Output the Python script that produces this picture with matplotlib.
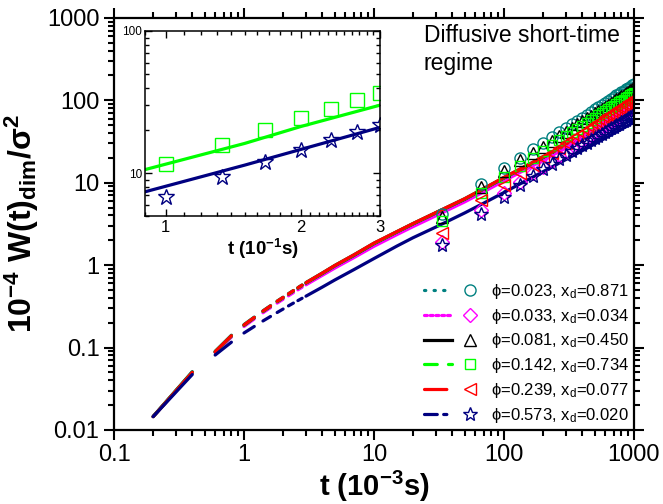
import matplotlib
matplotlib.use('Agg')
import matplotlib.pyplot as plt
from matplotlib.lines import Line2D
from matplotlib.legend_handler import HandlerTuple
from matplotlib.ticker import FixedLocator, NullFormatter

plt.rcParams['font.family'] = ['Liberation Sans', 'DejaVu Sans']
plt.rcParams['mathtext.fontset'] = 'custom'
plt.rcParams['mathtext.rm'] = 'Liberation Sans'
plt.rcParams['mathtext.it'] = 'Liberation Sans:italic'
plt.rcParams['mathtext.bf'] = 'Liberation Sans:bold'

# ---- data ----
series_labels = ['ϕ=0.023, x$_\\mathregular{d}$=0.871',
                 'ϕ=0.033, x$_\\mathregular{d}$=0.034',
                 'ϕ=0.081, x$_\\mathregular{d}$=0.450',
                 'ϕ=0.142, x$_\\mathregular{d}$=0.734',
                 'ϕ=0.239, x$_\\mathregular{d}$=0.077',
                 'ϕ=0.573, x$_\\mathregular{d}$=0.020']

# curves, t in ms
t_line = [0.2, 0.4, 0.6, 0.8, 1.0, 1.2, 1.4, 1.6, 1.8, 2.0, 2.2, 2.4, 2.6, 2.8, 3.0,
          4, 5, 7, 10, 15, 20, 30, 50, 70, 100, 150, 200, 300, 500, 700, 1000]
w_line_023 = [0.0146, 0.051, 0.090, 0.141, 0.190, 0.234, 0.279, 0.322, 0.366, 0.408, 0.450,
              0.492, 0.533, 0.574, 0.614, 0.80, 0.99, 1.33, 1.84, 2.54, 3.19, 4.33, 6.4, 8.5,
              11.5, 16.1, 20.5, 28.8, 44.6, 59.5, 81.5]
w_line_033 = [0.0145, 0.049, 0.087, 0.134, 0.180, 0.222, 0.264, 0.305, 0.346, 0.385, 0.424,
              0.463, 0.501, 0.539, 0.576, 0.75, 0.92, 1.23, 1.69, 2.34, 2.93, 3.97, 5.85, 7.75,
              10.5, 14.7, 18.7, 26.3, 40.8, 54.5, 74.0]
w_line_081 = [0.0145, 0.050, 0.088, 0.138, 0.186, 0.230, 0.274, 0.317, 0.360, 0.402, 0.444,
              0.485, 0.526, 0.566, 0.606, 0.79, 0.98, 1.31, 1.82, 2.52, 3.16, 4.30, 6.3, 8.4,
              11.4, 15.9, 20.2, 28.5, 44.0, 58.8, 80.5]
w_line_142 = [0.0145, 0.050, 0.089, 0.138, 0.187, 0.231, 0.275, 0.318, 0.362, 0.404, 0.446,
              0.487, 0.528, 0.569, 0.609, 0.795, 0.985, 1.32, 1.83, 2.53, 3.18, 4.32, 6.35, 8.45,
              11.45, 16.0, 20.4, 28.7, 44.5, 59.4, 81.2]
w_line_239 = [0.0145, 0.050, 0.089, 0.139, 0.188, 0.232, 0.277, 0.320, 0.364, 0.406, 0.448,
              0.490, 0.531, 0.572, 0.612, 0.80, 0.99, 1.33, 1.85, 2.55, 3.20, 4.35, 6.4, 8.5,
              11.6, 16.2, 20.6, 29.0, 45.0, 60.0, 82.0]
w_line_573 = [0.0145, 0.047, 0.081, 0.116, 0.150, 0.180, 0.210, 0.238, 0.266, 0.293, 0.320,
              0.346, 0.371, 0.396, 0.420, 0.54, 0.66, 0.88, 1.20, 1.70, 2.15, 2.90, 4.30, 5.65,
              7.6, 10.7, 13.6, 19.1, 29.5, 39.5, 54.0]

# measured points, t in ms
t_pts = [33.3, 66.7, 100, 133.3, 166.7, 200, 233.3, 266.7, 300, 333.3, 366.7, 400, 433.3,
         466.7, 500, 533.3, 566.7, 600, 633.3, 666.7, 700, 733.3, 766.7, 800, 833.3, 866.7,
         900, 933.3, 966.7, 1000]
w_pts_023 = [4.14, 9.67, 15.0, 20.1, 25.3, 30.4, 35.6, 40.8, 46.0, 51.2, 56.5, 61.7, 66.9,
             72.2, 77.4, 82.7, 88.0, 93.3, 98.5, 103.8, 109.1, 114.4, 119.7, 125.0, 130.3,
             135.6, 140.9, 146.2, 151.5, 157.0]
w_pts_033 = [1.93, 4.68, 7.45, 10.3, 13.0, 15.7, 18.4, 21.1, 23.8, 26.6, 29.4, 32.2, 35.0,
             37.8, 40.6, 43.4, 46.3, 49.1, 52.0, 54.9, 57.8, 60.6, 63.5, 66.4, 69.3, 72.3,
             75.2, 78.1, 81.0, 84.0]
w_pts_081 = [3.88, 8.8, 14.0, 18.9, 22.8, 27.4, 32.0, 36.7, 41.4, 46.1, 50.9, 55.5, 60.2,
             65.0, 69.7, 74.4, 79.2, 84.0, 88.7, 93.4, 98.2, 103.0, 107.7, 112.5, 117.3,
             122.0, 126.8, 131.6, 136.4, 141.3]
w_pts_142 = [3.45, 7.6, 11.6, 15.9, 20.1, 24.3, 28.4, 32.7, 36.8, 40.9, 45.0, 49.1, 53.2,
             57.3, 61.3, 65.4, 69.5, 73.6, 77.7, 81.8, 85.9, 90.0, 94.1, 98.1, 102.2, 106.3,
             110.4, 114.5, 118.6, 122.7]
w_pts_239 = [2.48, 6.18, 9.4, 13.0, 16.4, 19.8, 23.2, 26.6, 30.0, 33.5, 37.0, 40.5, 44.0,
             47.6, 51.1, 54.7, 58.3, 61.9, 65.5, 69.1, 72.7, 76.3, 80.0, 83.6, 87.3, 91.0,
             94.6, 98.3, 102.0, 105.7]
w_pts_573 = [1.73, 4.14, 6.8, 9.4, 12.0, 14.5, 17.1, 19.4, 21.8, 24.1, 26.3, 28.5, 30.7,
             32.9, 35.1, 37.2, 39.4, 41.5, 43.6, 45.7, 47.8, 49.9, 52.0, 54.0, 56.1, 58.1,
             60.2, 62.2, 64.2, 66.2]

# inset, t in 0.1 s
t_ins = [1.0, 1.333, 1.667, 2.0, 2.333, 2.667, 3.0]
w_ins_142 = [11.6, 15.9, 20.1, 24.3, 28.4, 32.7, 36.8]
w_ins_573 = [6.81, 9.42, 12.0, 14.5, 17.1, 19.4, 21.8]
t_fit = [0.9, 1.5, 2.0, 3.0]
w_fit_142 = [10.6, 16.2, 21.3, 30.1]
w_fit_573 = [7.4, 11.4, 14.7, 21.0]

x_ticks = [0.1, 1, 10, 100, 1000]
x_ticklabels = ['0.1', '1', '10', '100', '1000']
y_ticks = [0.01, 0.1, 1, 10, 100, 1000]
y_ticklabels = ['0.01', '0.1', '1', '10', '100', '1000']

lines = [w_line_023, w_line_033, w_line_081, w_line_142, w_line_239, w_line_573]
points = [w_pts_023, w_pts_033, w_pts_081, w_pts_142, w_pts_239, w_pts_573]

# ---- styles ----
colors = ['#008080', '#ff00ff', '#000000', '#00ff00', '#ff0000', '#000080']
markers = ['o', 'D', '^', 's', '<', '*']
msizes = [8, 7, 9, 7.5, 9, 10.5]
dashes = [(0, (0.4, 2.6)), (0, (0.9, 0.9)), '-', (0, (4, 3.5)), (0, (7, 2, 1, 2)), (0, (4, 2, 1, 2))]

fig = plt.figure(figsize=(6.63, 5.04), dpi=100)
ax = fig.add_axes([0.172, 0.147, 0.784, 0.8175])

for w, c in zip(lines, colors):
    # short times drawn in pieces, as in the original
    for i in range(0, 14, 2):
        ax.plot(t_line[i:i + 2], w[i:i + 2], color=c, lw=2.3, solid_capstyle='round')
    ax.plot(t_line[14:], w[14:], color=c, lw=2.3, solid_capstyle='round')

for w, c, m, s in zip(points, colors, markers, msizes):
    ax.plot(t_pts, w, ls='none', marker=m, ms=s, mfc='none', mec=c, mew=1.0)

ax.set_xscale('log')
ax.set_yscale('log')
ax.set_xlim(0.1, 1000)
ax.set_ylim(0.01, 1000)
ax.set_xticks(x_ticks, x_ticklabels)
ax.set_yticks(y_ticks, y_ticklabels)
ax.xaxis.set_minor_formatter(NullFormatter())
ax.yaxis.set_minor_formatter(NullFormatter())
ax.tick_params(which='both', direction='out', top=True, right=True, width=1.5, labelsize=17)
ax.tick_params(which='major', length=7)
ax.tick_params(which='minor', length=4)
for sp in ax.spines.values():
    sp.set_linewidth(1.6)

ax.set_xlabel(r'$\mathbf{t\ (10^{-3}s)}$', fontsize=21, labelpad=2)
ax.set_ylabel(r'$\mathbf{10^{-4}\ W(t)_{dim}/\sigma^2}$', fontsize=23, labelpad=4)

ax.text(0.596, 0.985, 'Diffusive short-time\nregime', transform=ax.transAxes,
        ha='left', va='top', fontsize=16.5, linespacing=1.25)

# legend: line piece + marker
handles = []
for c, m, s, d in zip(colors, markers, msizes, dashes):
    ln = Line2D([], [], color=c, lw=2.3, ls=d, dash_capstyle='round')
    mk = Line2D([], [], color=c, ls='none', marker=m, ms=s, mfc='none', mew=1.0)
    handles.append((ln, mk))
ax.legend(handles, series_labels, handler_map={tuple: HandlerTuple(ndivide=None, pad=0.3)},
          loc='lower right', frameon=False, fontsize=12, handlelength=3.6,
          labelspacing=0.35, handletextpad=0.4, borderaxespad=0.2, borderpad=0.1)

# inset
ins = fig.add_axes([0.2187, 0.5714, 0.3545, 0.3671])
ins.plot(t_fit, w_fit_142, color='#00ff00', lw=2.3)
ins.plot(t_fit, w_fit_573, color='#000080', lw=2.3)
ins.plot(t_ins, w_ins_142, ls='none', marker='s', ms=9.5, mfc='none', mec='#00ff00', mew=1.0)
ins.plot(t_ins, w_ins_573, ls='none', marker='*', ms=12, mfc='none', mec='#000080', mew=1.0)
ins.set_xscale('log')
ins.set_yscale('log')
ins.set_xlim(0.9, 3.0)
ins.set_ylim(5, 100)
ins.xaxis.set_major_locator(FixedLocator([1, 2, 3]))
ins.xaxis.set_ticklabels(['1', '2', '3'])
ins.xaxis.set_minor_locator(FixedLocator([0.9, 1.1, 1.2, 1.3, 1.4, 1.5, 1.6, 1.7, 1.8, 1.9,
                                          2.1, 2.2, 2.3, 2.4, 2.5, 2.6, 2.7, 2.8, 2.9]))
ins.xaxis.set_minor_formatter(NullFormatter())
ins.yaxis.set_major_locator(FixedLocator([10, 100]))
ins.yaxis.set_ticklabels(['10', '100'])
ins.yaxis.set_minor_locator(FixedLocator([5, 6, 7, 8, 9, 20, 30, 40, 50, 60, 70, 80, 90]))
ins.yaxis.set_minor_formatter(NullFormatter())
ins.tick_params(which='both', direction='in', top=True, right=True, width=1.0)
ins.tick_params(which='major', length=5)
ins.tick_params(which='minor', length=3)
ins.tick_params(axis='x', labelsize=12, pad=3)
ins.tick_params(axis='y', labelsize=8.5, pad=2)
for sp in ins.spines.values():
    sp.set_linewidth(1.1)
ins.set_xlabel(r'$\mathbf{t\ (10^{-1}s)}$', fontsize=13.5, labelpad=1)

fig.savefig('out.png', dpi=100)
